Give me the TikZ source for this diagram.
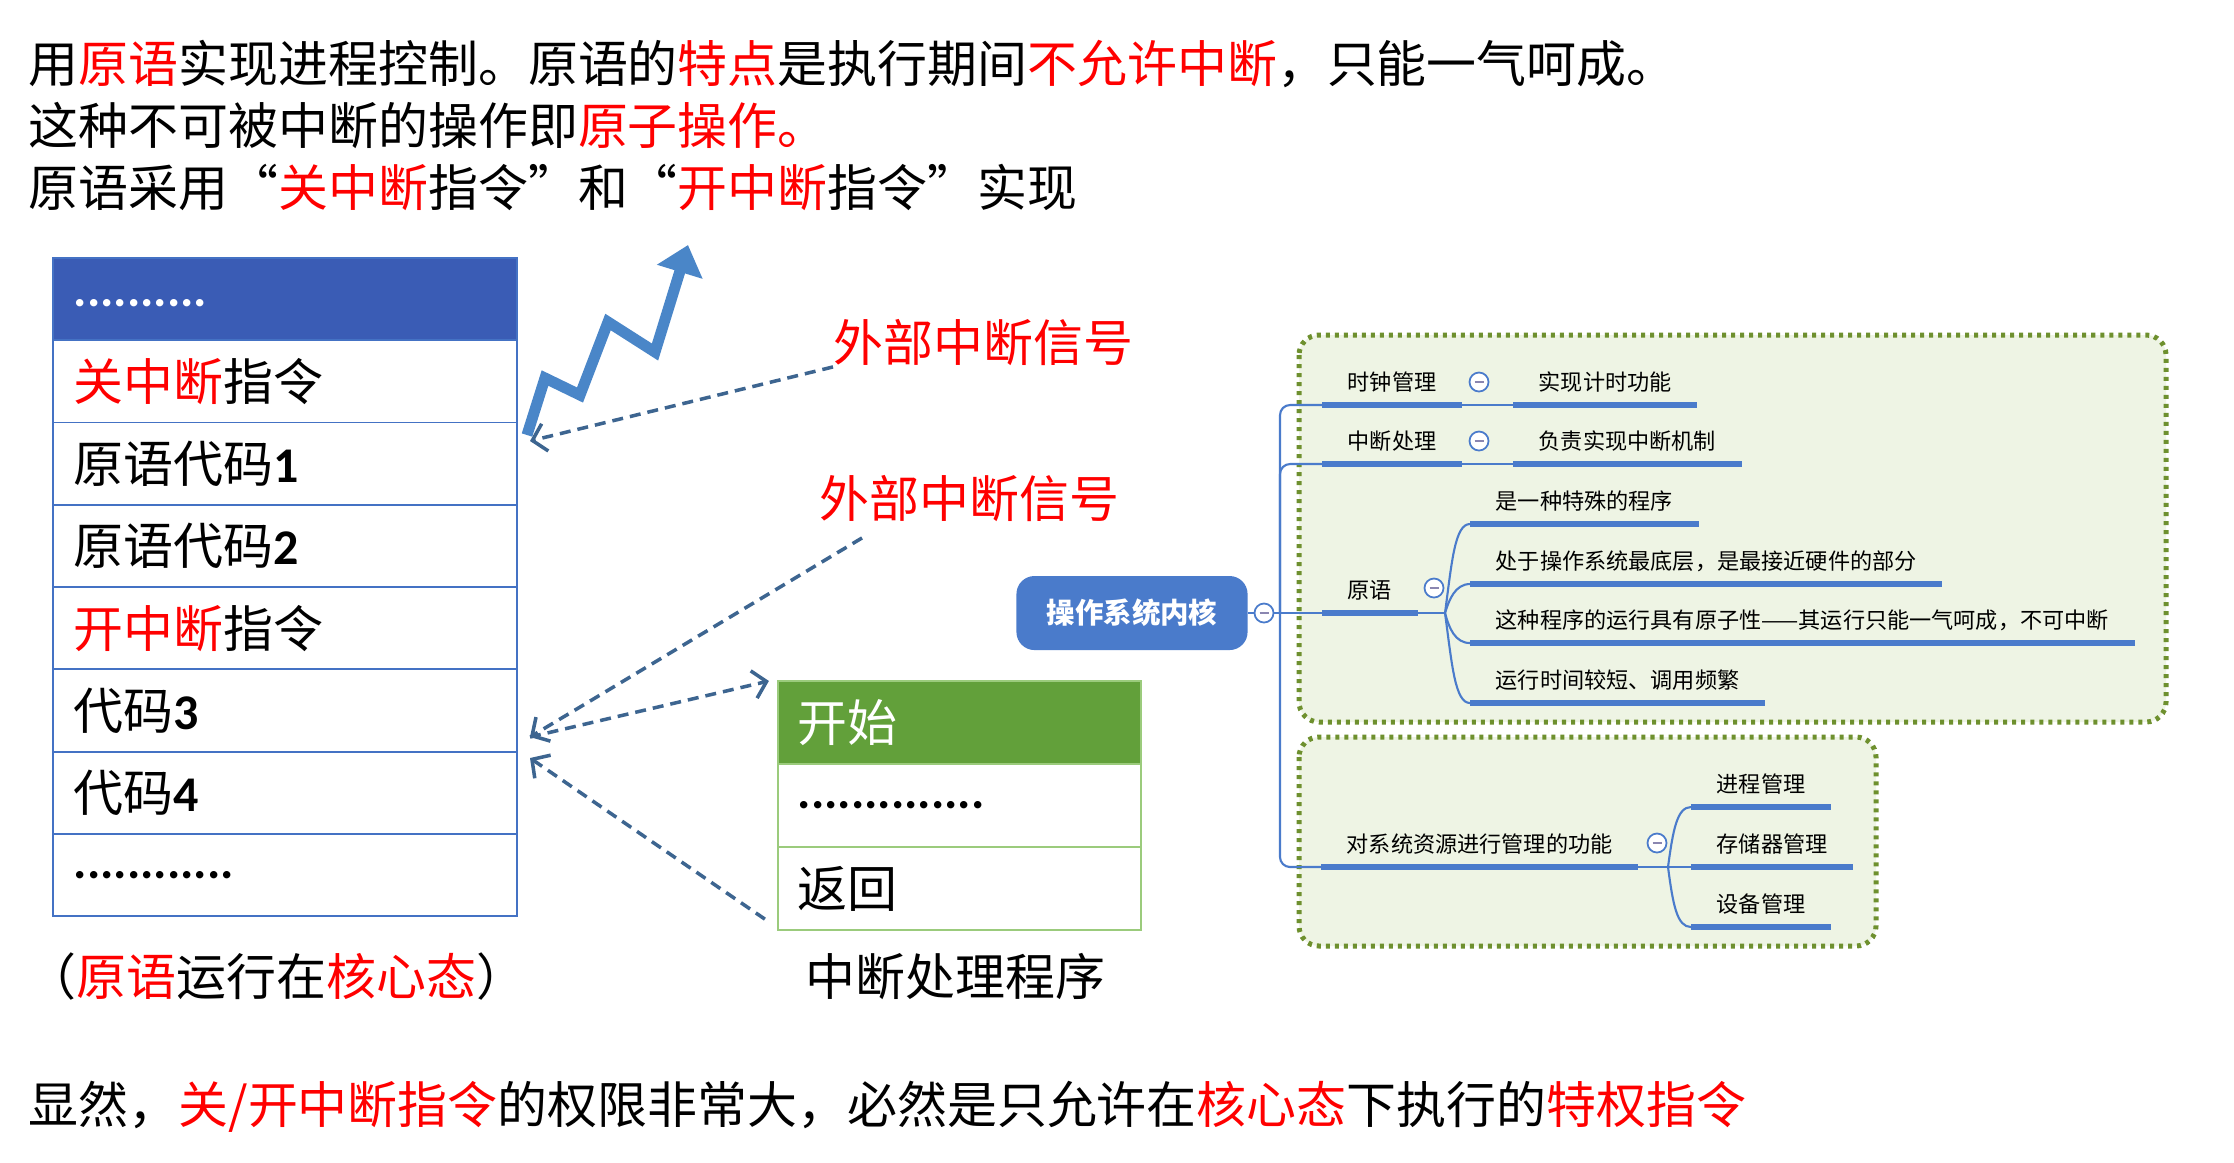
\documentclass[tikz,border=0pt]{standalone}
\usepackage{fontspec}
\setmainfont{Noto Sans CJK SC}
\newfontfamily\latinfont{Carlito}
\usetikzlibrary{arrows.meta,positioning,calc}
\definecolor{hotred}{HTML}{FF0000}
\definecolor{hdrblue}{HTML}{3A5CB5}
\definecolor{tblblue}{HTML}{4472C4}
\definecolor{zigblue}{HTML}{4A86C8}
\definecolor{sigblue}{HTML}{3D6590}
\definecolor{hgreen}{HTML}{62A03A}
\definecolor{hborder}{HTML}{9BCB7C}
\definecolor{mmblue}{HTML}{4A7BCB}
\definecolor{foldgray}{HTML}{8A86B0}
\definecolor{boxfill}{HTML}{EEF4E4}
\definecolor{boxgreen}{HTML}{6E902E}
\newcommand\bigfont{\fontsize{14.2pt}{16pt}\selectfont}
\newcommand\mmfont{\fontsize{6.3pt}{7.5pt}\selectfont}

\begin{document}
\begin{tikzpicture}[x=0.01cm,y=-0.01cm,
    cell/.style={draw=tblblue,line width=0.5pt,outer sep=0pt,text width=4.22cm,inner xsep=0.21cm,inner ysep=0pt,minimum height=0.8225cm,align=left,font=\bigfont},
    hcell/.style={draw=hborder,line width=0.6pt,outer sep=0pt,text width=3.23cm,inner xsep=0.2cm,inner ysep=0pt,minimum height=0.83cm,align=left,font=\bigfont},
    caption/.style={anchor=west,inner sep=0pt,font=\bigfont},
    sig/.style={draw=sigblue,line width=1pt,dash pattern=on 0.11cm off 0.07cm,-{Straight Barb[length=0.13cm,width=0.28cm]}},
    zig/.style={draw=zigblue,line width=0.11cm,line join=miter,-{Triangle[length=0.28cm,width=0.46cm]}},
    mmbox/.style={fill=boxfill,draw=boxgreen,line width=0.05cm,dash pattern=on 0.04cm off 0.05cm,rounded corners=0.2cm},
    topic/.style={anchor=south west,inner xsep=0.25cm,inner ysep=0.135cm,text height=0.2cm,text depth=0pt,font=\mmfont},
    uline/.style={draw=mmblue,line width=0.06cm},
    mmline/.style={draw=mmblue,line width=0.6pt},
    fold/.style={circle,draw=mmblue,fill=white,line width=0.5pt,minimum size=0.19cm,inner sep=0pt,
      path picture={\draw[foldgray,line width=0.45pt] ([xshift=-0.045cm]path picture bounding box.center) -- ([xshift=0.045cm]path picture bounding box.center);}},
    kernel/.style={fill=mmblue,rounded corners=0.18cm,minimum width=2.31cm,minimum height=0.74cm,text=white,font=\fontsize{8.1pt}{9pt}\selectfont\bfseries}]
    \useasboundingbox (0,0) rectangle (2234,1162);
    \fill[white] (0,0) rectangle (2234,1162);

    \node[caption] (line1) at (28,64) {用\textcolor{hotred}{原语}实现进程控制。原语的\textcolor{hotred}{特点}是执行期间\textcolor{hotred}{不允许中断}，只能一气呵成。};
    \node[caption] (line2) at (28,125) {这种不可被中断的操作即\textcolor{hotred}{原子操作。}};
    \node[caption] (line3) at (28,187) {原语采用“\textcolor{hotred}{关中断}指令”和“\textcolor{hotred}{开中断}指令”实现};

    \node[cell,fill=hdrblue,text=white] (hdr) at (285,299) {\smash{\raisebox{-0.07cm}{\latinfont\bfseries ..........}}};
    \node[cell,below=0pt of hdr] (r1) {\textcolor{hotred}{关中断}指令};
    \node[cell,below=0pt of r1] (r2) {原语代码{\latinfont\bfseries 1}};
    \node[cell,below=0pt of r2] (r3) {原语代码{\latinfont\bfseries 2}};
    \node[cell,below=0pt of r3] (r4) {\textcolor{hotred}{开中断}指令};
    \node[cell,below=0pt of r4] (r5) {代码{\latinfont\bfseries 3}};
    \node[cell,below=0pt of r5] (r6) {代码{\latinfont\bfseries 4}};
    \node[cell,below=0pt of r6] (r7) {\latinfont\bfseries ............};
    \node[caption] (capL) at (26,976) {（\textcolor{hotred}{原语}运行在\textcolor{hotred}{核心态}）};

    \node[hcell,fill=hgreen,text=white] (h0) at (959.5,722.5) {开始};
    \node[hcell,below=0pt of h0] (h1) {\latinfont\bfseries ..............};
    \node[hcell,below=0pt of h1] (h2) {返回};
    \node[caption] (capR) at (805,976) {中断处理程序};

    \draw[zig] (527,435) -- (545,378) -- (580,395) -- (608,322) -- (655,352) -- (688,245);
    \node[caption,text=hotred] (lblA) at (833,343) {外部中断信号};
    \node[caption,text=hotred] (lblB) at (819,499) {外部中断信号};
    \coordinate (hitA) at (530,441);
    \coordinate (hitB) at (530,737);
    \coordinate (hitD) at (530,758);
    \draw[sig] (lblA.south west) -- (hitA);
    \draw[sig] ([xshift=0.43cm,yshift=-0.15cm]lblB.south west) -- (hitB);
    \draw[sig] (hitB) -- ([xshift=-0.09cm]h0.north west);
    \draw[sig] ([xshift=-0.13cm,yshift=0.11cm]h2.south west) -- (hitD);

    \node[caption] (bottom) at (28,1107) {显然，\textcolor{hotred}{关/开中断指令}的权限非常大，必然是只允许在\textcolor{hotred}{核心态}下执行的\textcolor{hotred}{特权指令}};

    \draw[mmbox] (1299,335) rectangle (2166,722);
    \draw[mmbox] (1299,737) rectangle (1876,946);

    \node[kernel] (kernel) at (1132,613) {操作系统内核};
    \node[fold] (kc) at (1264,613) {};
    \coordinate (spine) at (1280,613);
    \coordinate (pfork) at (1445,613);
    \coordinate (rfork) at (1668,867);

    \node[topic] (clk) at (1322,405) {时钟管理};
    \node[topic] (clkd) at (1513,405) {实现计时功能};
    \node[topic] (irq) at (1322,464) {中断处理};
    \node[topic] (irqd) at (1513,464) {负责实现中断机制};
    \node[topic] (prim) at (1322,613) {原语};
    \node[topic] (p1) at (1470,524) {是一种特殊的程序};
    \node[topic] (p2) at (1470,584) {处于操作系统最底层，是最接近硬件的部分};
    \node[topic] (p3) at (1470,643) {这种程序的运行具有原子性——其运行只能一气呵成，不可中断};
    \node[topic] (p4) at (1470,703) {运行时间较短、调用频繁};
    \node[topic] (res) at (1321,867) {对系统资源进行管理的功能};
    \node[topic] (m1) at (1691,807) {进程管理};
    \node[topic] (m2) at (1691,867) {存储器管理};
    \node[topic] (m3) at (1691,927) {设备管理};

    \draw[mmline] (kernel.east) -- (kc.west);
    \draw[mmline] (kc.east) -- (spine) -- (prim.south west);
    \draw[mmline,rounded corners=0.1cm] (clk.south west) -| (spine) |- (res.south west);
    \draw[mmline,rounded corners=0.1cm] (irq.south west) -| (spine);
    \draw[mmline] (clk.south east) -- (clkd.south west);
    \draw[mmline] (irq.south east) -- (irqd.south west);
    \draw[mmline] (prim.south east) -- (pfork);
    \draw[mmline] (pfork) .. controls (1452,560) and (1455,524) .. (p1.south west);
    \draw[mmline] (pfork) .. controls (1449,600) and (1455,584) .. (p2.south west);
    \draw[mmline] (pfork) .. controls (1449,628) and (1455,643) .. (p3.south west);
    \draw[mmline] (pfork) .. controls (1452,665) and (1455,703) .. (p4.south west);
    \draw[mmline] (res.south east) -- (rfork) -- (m2.south west);
    \draw[mmline] (rfork) .. controls (1673,830) and (1677,807) .. (m1.south west);
    \draw[mmline] (rfork) .. controls (1673,905) and (1677,927) .. (m3.south west);

    \draw[uline] (clk.south west) -- (clk.south east);
    \draw[uline] (clkd.south west) -- (clkd.south east);
    \draw[uline] (irq.south west) -- (irq.south east);
    \draw[uline] (irqd.south west) -- (irqd.south east);
    \draw[uline] (prim.south west) -- (prim.south east);
    \draw[uline] (p1.south west) -- (p1.south east);
    \draw[uline] (p2.south west) -- (p2.south east);
    \draw[uline] (p3.south west) -- (p3.south east);
    \draw[uline] (p4.south west) -- (p4.south east);
    \draw[uline] (res.south west) -- (res.south east);
    \draw[uline] (m1.south west) -- (m1.south east);
    \draw[uline] (m2.south west) -- (m2.south east);
    \draw[uline] (m3.south west) -- (m3.south east);

    \node[fold] (clkc) at (1479,382) {};
    \node[fold] (irqc) at (1479,441) {};
    \node[fold] (primc) at (1434,588) {};
    \node[fold] (resc) at (1657,843) {};
\end{tikzpicture}
\end{document}
